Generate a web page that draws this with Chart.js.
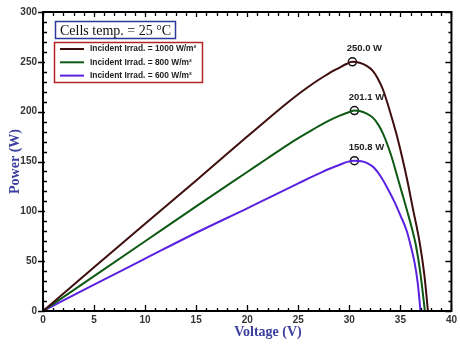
<!DOCTYPE html>
<html>
<head>
<meta charset="utf-8">
<script src="https://cdn.jsdelivr.net/npm/chart.js@4.4.1/dist/chart.umd.min.js"></script>
<style>
  html, body { margin: 0; padding: 0; background: #fff; }
  #wrap { width: 460px; height: 344px; }
</style>
</head>
<body>
<div id="wrap"><canvas id="pv"></canvas></div>
<script>
// P-V curves of the module at 25 °C for three irradiance levels
const labels = ['Incident Irrad. = 1000 W/m²', 'Incident Irrad. = 800 W/m²', 'Incident Irrad. = 600 W/m²'];
const colors = ['#3e0d0d', '#0e5a14', '#5a22e0'];

const volt1000 = [0, 5, 10, 15, 20, 22, 24, 25, 26, 27, 28, 29, 29.7, 30.3, 31, 31.7, 32.3, 32.8, 33.3, 33.9, 34.6, 35.2, 35.7, 36.2, 36.9, 37.35, 37.7];
const pow1000  = [0, 43.8, 87.5, 131, 175, 192.5, 209.5, 217.5, 225, 232, 238.5, 244, 247.8, 250.0, 249, 246, 241, 233, 222, 203, 178, 153, 130, 104, 68, 36, 0];

const volt800 = [0, 5, 10, 15, 20, 22, 24, 25, 26, 27, 28, 29, 30, 30.5, 31, 31.7, 32.3, 32.8, 33.3, 34.1, 34.75, 35.2, 35.7, 36.1, 36.5, 36.97, 37.4];
const pow800  = [0, 35, 70, 105, 139.5, 153.3, 167, 173.5, 179.5, 185.5, 191, 195.8, 199.6, 201.1, 200.7, 198, 194, 187.5, 178, 156, 133, 117, 99, 84, 67, 37, 0];

const volt600 = [0, 5, 10, 15, 20, 22, 24, 25, 26, 27, 28, 29, 29.8, 30.5, 31.2, 31.8, 32.4, 33.2, 33.8, 34.4, 35.0, 35.6, 36.0, 36.4, 36.7, 36.97];
const pow600  = [0, 26.5, 52.5, 78.5, 103, 113, 123, 128, 133, 137.8, 142.5, 146.5, 149.6, 150.8, 150.3, 148.2, 144, 133, 122, 110, 96, 81, 66, 48, 28, 0];

// maximum power points
const peakVolt = [30.3, 30.5, 30.5];
const peakPow  = [250.0, 201.1, 150.8];

const xTicks = { min: 0, max: 40, step: 5, minor: 1 };
const yTicks = { min: 0, max: 300, step: 50, minor: 10 };

const series = [[volt1000, pow1000], [volt800, pow800], [volt600, pow600]];
const pts = (xs, ys) => xs.map((v, i) => ({ x: v, y: ys[i] }));

const curveSets = series.map((s, i) => ({
  label: labels[i],
  data: pts(s[0], s[1]),
  borderColor: colors[i],
  borderWidth: 2,
  pointRadius: 0,
  fill: false,
  cubicInterpolationMode: 'monotone'
}));

const peakSet = {
  label: 'MPP',
  data: pts(peakVolt, peakPow),
  showLine: false,
  pointRadius: 4,
  pointBackgroundColor: '#fff',
  pointBorderColor: '#111',
  pointBorderWidth: 1.5
};

const tickFont = { family: 'Liberation Sans, Arial', size: 10, weight: 'bold' };

// frame, tick marks, boxes, titles and peak labels
const decor = {
  id: 'decor',
  afterDatasetsDraw(chart) {
    const { ctx, chartArea: a, scales: { x, y } } = chart;
    ctx.save();

    // peak value labels
    ctx.fillStyle = '#222';
    ctx.font = 'bold 9.5px Liberation Sans, Arial';
    ctx.textAlign = 'center';
    ctx.textBaseline = 'middle';
    peakVolt.forEach((v, i) => {
      ctx.fillText(peakPow[i].toFixed(1) + ' W', x.getPixelForValue(v) + 12, y.getPixelForValue(peakPow[i]) - 13);
    });

    // frame
    ctx.strokeStyle = '#000';
    ctx.lineWidth = 2;
    ctx.strokeRect(a.left, a.top, a.right - a.left, a.bottom - a.top);

    ctx.lineWidth = 1.3;
    ctx.beginPath();
    for (let v = xTicks.min; v <= xTicks.max; v += xTicks.minor) {
      const px = Math.round(x.getPixelForValue(v)) + 0.5;
      const major = v % xTicks.step === 0;
      const len = major ? 6 : 3;
      ctx.moveTo(px, a.bottom); ctx.lineTo(px, a.bottom - len);
      ctx.moveTo(px, a.top); ctx.lineTo(px, a.top + (major ? 5 : 4));
    }
    for (let v = yTicks.min; v <= yTicks.max; v += yTicks.minor) {
      const py = Math.round(y.getPixelForValue(v)) + 0.5;
      const major = v % yTicks.step === 0;
      if (major) {
        ctx.moveTo(a.left - 5, py); ctx.lineTo(a.left + 2, py);
        ctx.moveTo(a.right, py); ctx.lineTo(a.right - 6, py);
      } else {
        ctx.moveTo(a.left, py); ctx.lineTo(a.left + 4, py);
        ctx.moveTo(a.right, py); ctx.lineTo(a.right - 3, py);
      }
    }
    ctx.stroke();

    // temperature box
    ctx.strokeStyle = '#2b3a9a';
    ctx.lineWidth = 1.5;
    ctx.strokeRect(55.5, 21.5, 120, 17);
    ctx.fillStyle = '#111';
    ctx.font = '14px Liberation Serif, Times New Roman';
    ctx.textAlign = 'left';
    ctx.textBaseline = 'alphabetic';
    ctx.fillText('Cells temp. = 25 °C', 60, 35);

    // legend box
    ctx.strokeStyle = '#b52424';
    ctx.strokeRect(54.5, 42.5, 148, 40);
    ctx.font = 'bold 8.4px Liberation Sans, Arial';
    ctx.textBaseline = 'middle';
    labels.forEach((t, i) => {
      const ly = 49 + i * 13.3;
      ctx.strokeStyle = colors[i];
      ctx.lineWidth = 2;
      ctx.beginPath(); ctx.moveTo(60, ly); ctx.lineTo(84, ly); ctx.stroke();
      ctx.fillStyle = '#222';
      ctx.fillText(t, 90, ly);
    });

    // axis titles
    ctx.fillStyle = '#3b3f9e';
    ctx.font = 'bold 14px Liberation Serif, Times New Roman';
    ctx.textAlign = 'center';
    ctx.fillText('Voltage (V)', 268, 332);
    ctx.translate(15, (a.top + a.bottom) / 2);
    ctx.rotate(-Math.PI / 2);
    ctx.fillText('Power (W)', 0, 0);

    ctx.restore();
  }
};

new Chart(document.getElementById('pv'), {
  type: 'line',
  data: { datasets: [...curveSets, peakSet] },
  plugins: [decor],
  options: {
    responsive: true,
    maintainAspectRatio: false,
    animation: false,
    layout: { padding: { top: 11, right: 8, left: 0, bottom: 0 } },
    plugins: { legend: { display: false }, tooltip: { enabled: false } },
    scales: {
      x: {
        type: 'linear',
        min: xTicks.min, max: xTicks.max,
        ticks: { stepSize: xTicks.step, color: '#333', font: tickFont, padding: 3, maxRotation: 0 },
        grid: { display: false, drawTicks: false },
        border: { display: false },
        afterFit: (s) => { s.height = 33; }
      },
      y: {
        min: yTicks.min, max: yTicks.max,
        ticks: { stepSize: yTicks.step, color: '#333', font: tickFont, padding: 6 },
        grid: { display: false, drawTicks: false },
        border: { display: false },
        afterFit: (s) => { s.width = 43; }
      }
    }
  }
});
</script>
</body>
</html>
